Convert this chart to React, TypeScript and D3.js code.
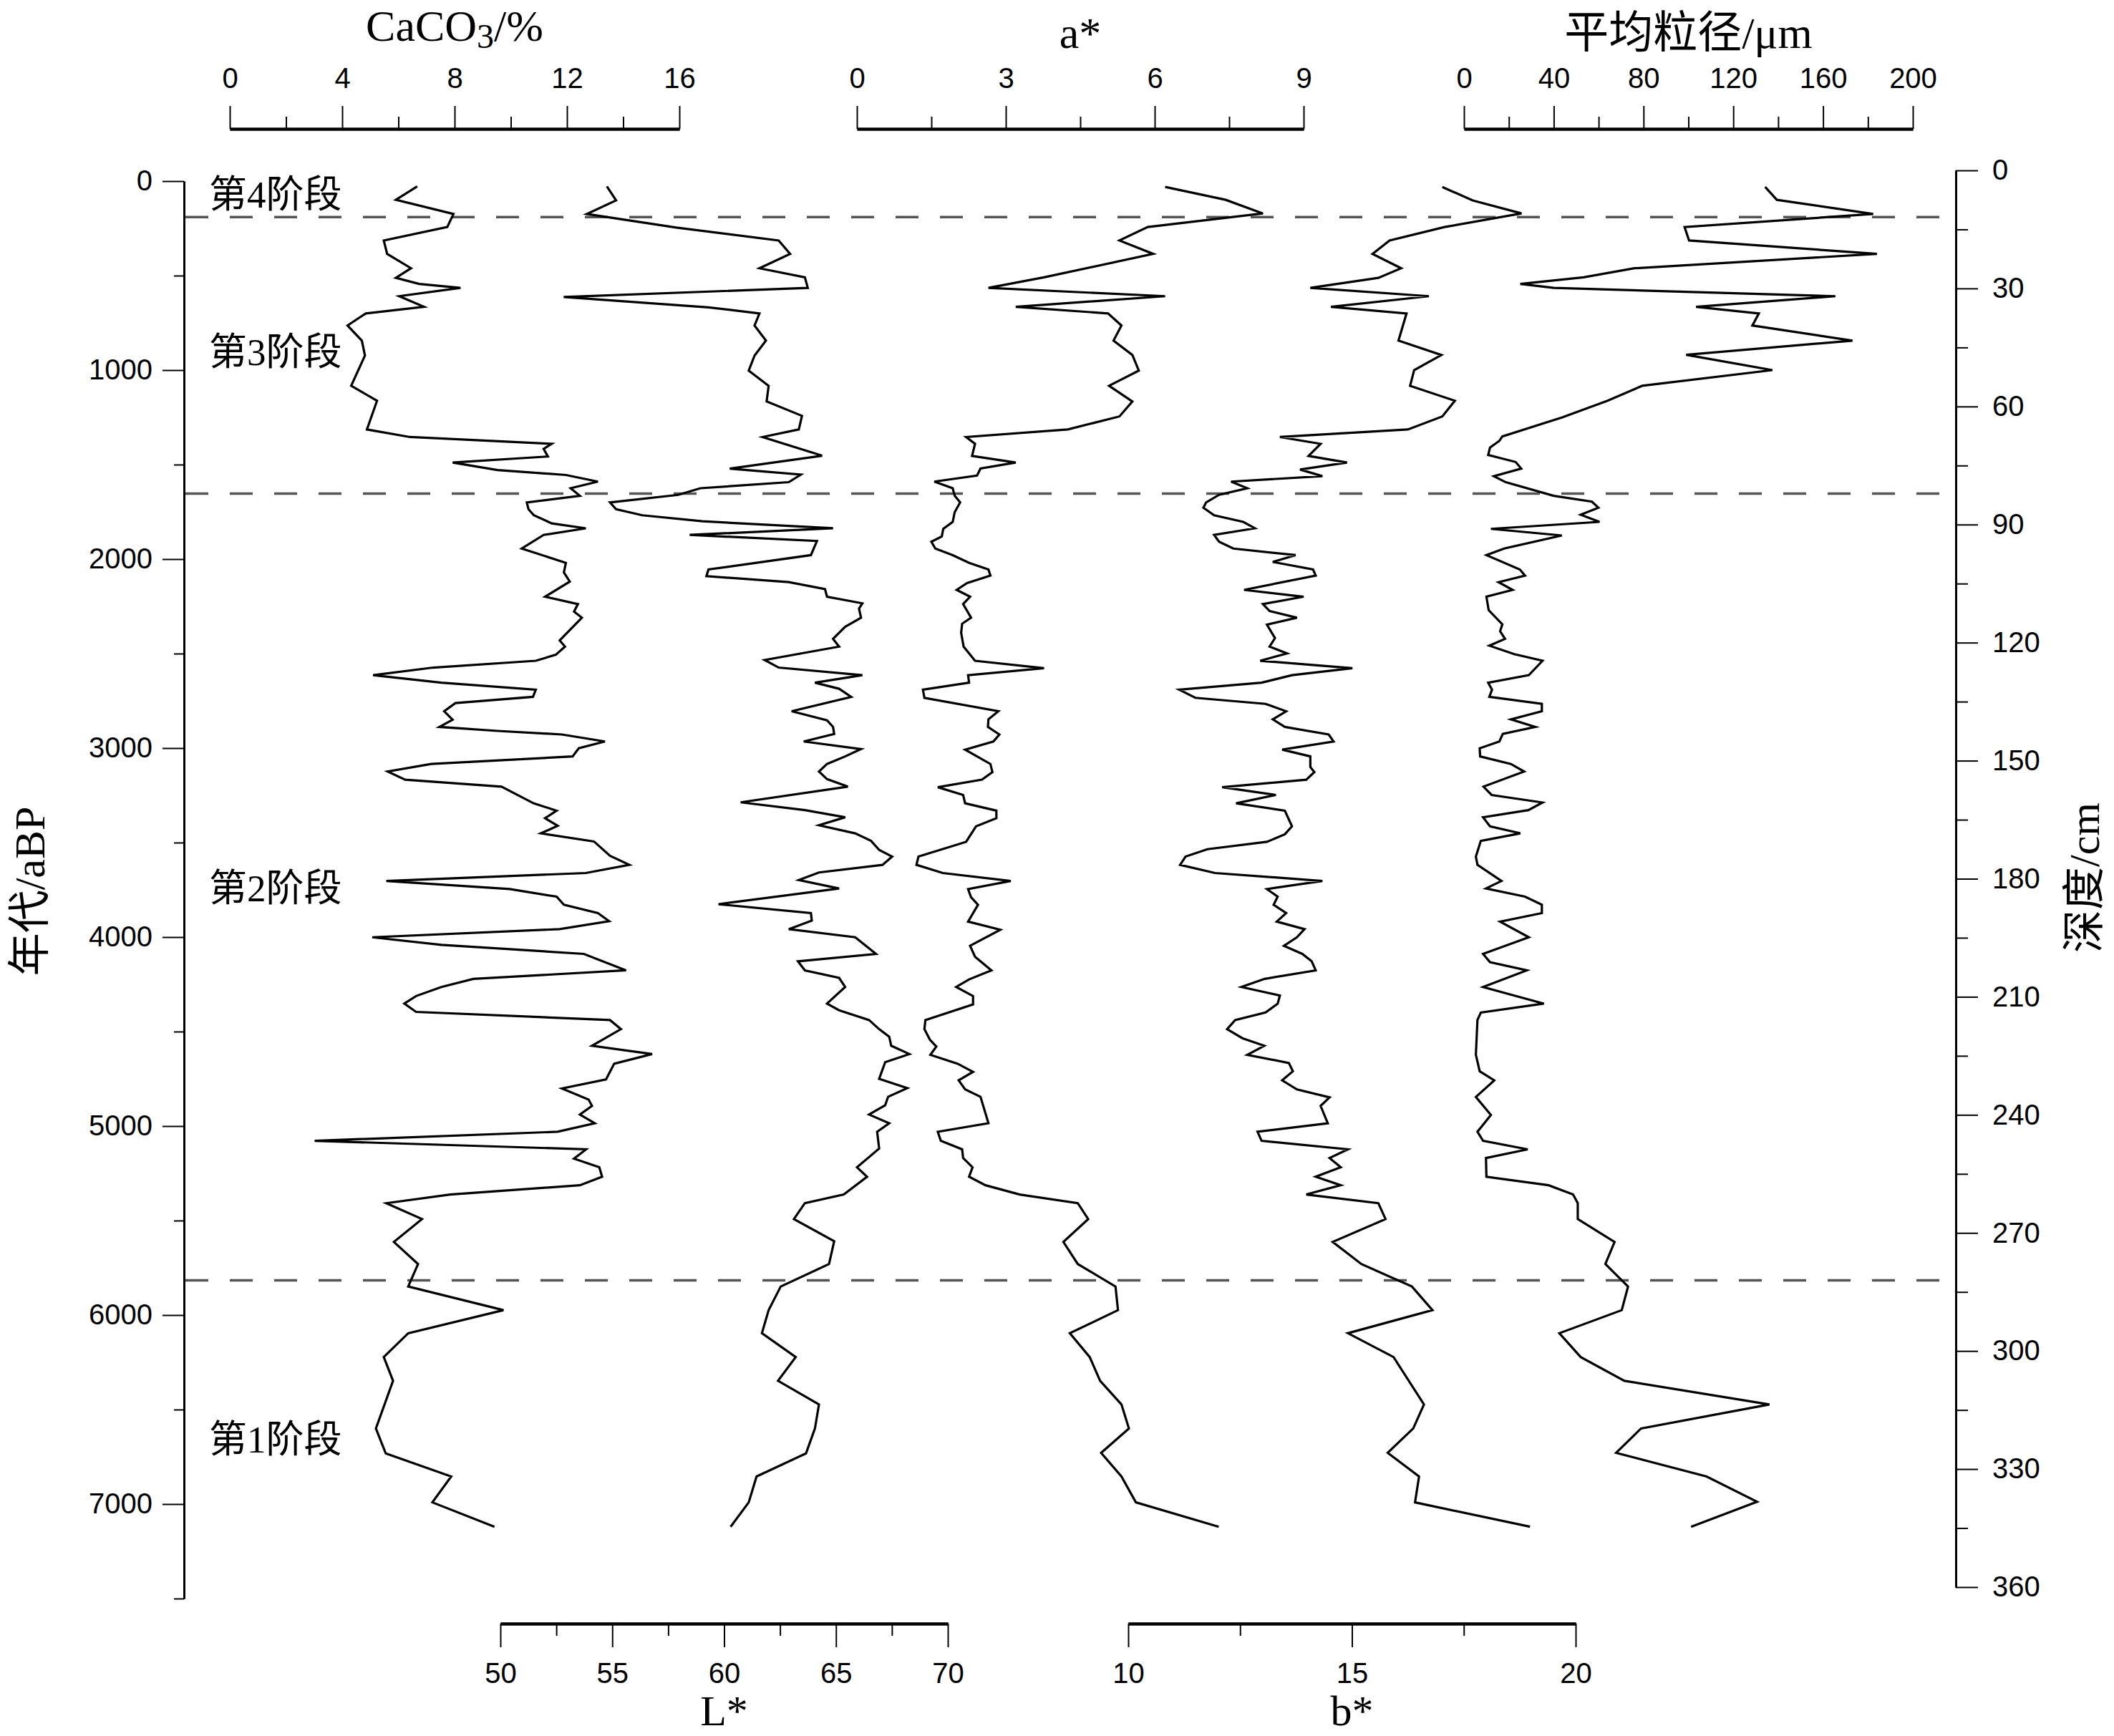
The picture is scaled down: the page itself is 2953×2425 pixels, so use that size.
import React, { useEffect, useRef } from 'react';
import * as d3 from 'd3';

// [age (aBP), value] pairs
const caco3: [number, number][] = [
  [28, 6.67], [99, 5.91], [174, 7.96], [243, 7.74], [314, 5.48], [385, 5.6], [461, 6.45], [512, 5.91],
  [544, 6.74], [565, 8.21], [609, 6.03], [665, 6.91], [700, 4.84], [764, 4.19], [844, 4.7], [923, 4.81],
  [1083, 4.32], [1162, 5.24], [1314, 4.88], [1354, 6.41], [1390, 11.46], [1417, 11.17], [1457, 11.32],
  [1489, 7.93], [1529, 9.53], [1555, 11.96], [1590, 13.1], [1625, 12.13], [1665, 12.46], [1700, 10.57],
  [1736, 10.63], [1768, 10.82], [1811, 11.46], [1837, 12.67], [1872, 11.17], [1944, 10.39], [2020, 11.96],
  [2071, 11.89], [2119, 12.1], [2199, 11.22], [2238, 12.39], [2278, 12.25], [2310, 12.53], [2430, 11.74],
  [2463, 11.93], [2506, 11.6], [2538, 10.89], [2574, 7.24], [2614, 5.1], [2654, 7.53], [2691, 10.89],
  [2729, 10.79], [2762, 8.03], [2805, 7.63], [2850, 7.93], [2888, 7.46], [2909, 9.53], [2928, 11.82],
  [2965, 13.35], [3001, 12.42], [3044, 12.2], [3084, 7.17], [3124, 5.62], [3167, 6.24], [3204, 9.67],
  [3292, 10.81], [3331, 11.63], [3371, 11.22], [3411, 11.67], [3451, 11.07], [3494, 12.96], [3570, 13.53],
  [3618, 14.22], [3661, 12.67], [3703, 5.57], [3746, 9.96], [3786, 11.63], [3829, 11.89], [3873, 13.1],
  [3916, 13.5], [3958, 11.74], [4001, 5.07], [4041, 7.53], [4089, 12.6], [4176, 14.1], [4221, 8.67],
  [4264, 7.53], [4312, 6.63], [4352, 6.21], [4396, 6.63], [4439, 13.53], [4487, 13.92], [4575, 12.89],
  [4619, 15.03], [4670, 13.68], [4753, 13.39], [4801, 11.82], [4860, 12.77], [4893, 12.89], [4939, 12.46],
  [4985, 12.99], [5030, 11.67], [5078, 3.02], [5123, 12.68], [5172, 12.25], [5218, 13.15], [5268, 13.25],
  [5313, 12.46], [5362, 7.84], [5408, 5.57], [5492, 6.84], [5613, 5.84], [5730, 6.7], [5849, 6.35],
  [5974, 9.74], [6096, 6.35], [6222, 5.48], [6348, 5.81], [6600, 5.2], [6732, 5.55], [6854, 7.88],
  [6991, 7.21], [7120, 9.42],
];

const lStar: [number, number][] = [
  [28, 54.76], [102, 55.17], [174, 53.86], [246, 57.86], [314, 62.44], [385, 62.95], [461, 61.58],
  [509, 63.61], [565, 63.74], [613, 52.83], [668, 59.3], [700, 61.58], [764, 61.36], [844, 61.87],
  [923, 61.36], [1003, 61.1], [1083, 61.99], [1166, 61.9], [1242, 63.48], [1314, 63.34], [1354, 61.72],
  [1453, 64.38], [1521, 60.25], [1553, 63.43], [1593, 62.89], [1625, 58.94], [1660, 57.95], [1700, 54.9],
  [1736, 55.17], [1768, 56.34], [1800, 59.03], [1837, 64.87], [1872, 58.46], [1904, 64.15], [1979, 63.88],
  [2055, 59.3], [2090, 59.21], [2122, 62.89], [2159, 64.51], [2199, 64.6], [2234, 66.18], [2262, 66.03],
  [2310, 66.12], [2358, 65.41], [2422, 64.87], [2463, 65.14], [2534, 61.81], [2574, 62.44], [2614, 66.18],
  [2654, 64.06], [2686, 65.14], [2729, 65.68], [2805, 63.02], [2853, 64.6], [2888, 64.87], [2925, 64.92],
  [2965, 63.56], [3005, 66.12], [3044, 65.41], [3084, 64.6], [3124, 64.24], [3164, 64.6], [3204, 65.53],
  [3287, 60.74], [3328, 63.61], [3366, 65.41], [3408, 64.24], [3451, 65.86], [3491, 66.57], [3539, 66.93],
  [3574, 67.51], [3618, 67.08], [3658, 64.24], [3698, 63.34], [3743, 65.14], [3826, 59.75], [3873, 63.88],
  [3913, 63.92], [3958, 62.89], [4001, 65.86], [4089, 66.79], [4128, 63.3], [4176, 63.61], [4216, 65.14],
  [4264, 65.41], [4352, 64.6], [4387, 65.14], [4439, 66.48], [4487, 66.93], [4527, 67.38], [4575, 67.47],
  [4619, 68.28], [4662, 67.2], [4750, 66.93], [4799, 68.19], [4845, 67.33], [4890, 67.2], [4939, 66.48],
  [4985, 67.38], [5030, 66.84], [5119, 66.93], [5218, 65.94], [5268, 66.39], [5362, 65.35], [5408, 63.61],
  [5492, 63.12], [5609, 64.92], [5730, 64.69], [5849, 62.53], [5974, 61.99], [6096, 61.69], [6222, 63.2],
  [6348, 62.41], [6473, 64.24], [6600, 64.06], [6732, 63.66], [6854, 61.45], [6991, 61.1], [7120, 60.29],
];

const aStar: [number, number][] = [
  [31, 6.21], [99, 7.43], [171, 8.18], [243, 5.86], [314, 5.29], [385, 5.97], [509, 3.77], [565, 2.65],
  [609, 6.21], [665, 3.2], [700, 5.06], [764, 5.33], [844, 5.17], [920, 5.55], [1003, 5.68], [1083, 5.08],
  [1166, 5.55], [1245, 5.29], [1314, 4.25], [1354, 2.2], [1390, 2.38], [1454, 2.32], [1489, 3.2],
  [1521, 2.49], [1558, 2.42], [1590, 1.56], [1625, 1.93], [1665, 1.97], [1700, 2.08], [1752, 1.97],
  [1803, 1.93], [1840, 1.74], [1880, 1.71], [1908, 1.5], [1944, 1.58], [1979, 1.93], [2020, 2.26],
  [2055, 2.65], [2087, 2.69], [2127, 2.22], [2163, 2.01], [2199, 2.28], [2238, 2.14], [2310, 2.3],
  [2342, 2.12], [2390, 2.1], [2463, 2.15], [2538, 2.38], [2577, 3.77], [2614, 2.24], [2654, 2.26],
  [2691, 1.33], [2734, 1.36], [2805, 2.85], [2848, 2.65], [2888, 2.64], [2928, 2.87], [2965, 2.75],
  [3008, 2.18], [3084, 2.69], [3127, 2.73], [3167, 2.52], [3207, 1.63], [3248, 2.14], [3292, 2.18],
  [3331, 2.81], [3371, 2.81], [3414, 2.4], [3496, 2.2], [3574, 1.24], [3618, 1.2], [3661, 1.73],
  [3703, 3.1], [3746, 2.24], [3789, 2.3], [3829, 2.44], [3918, 2.24], [3961, 2.89], [4046, 2.28],
  [4104, 2.38], [4176, 2.71], [4224, 2.26], [4264, 2.0], [4312, 2.34], [4356, 2.34], [4439, 1.38],
  [4487, 1.36], [4543, 1.47], [4579, 1.6], [4623, 1.48], [4670, 2.03], [4713, 2.34], [4758, 2.05],
  [4806, 2.18], [4845, 2.49], [4985, 2.65], [5030, 1.63], [5078, 1.69], [5123, 2.12], [5169, 2.14],
  [5218, 2.33], [5268, 2.26], [5313, 2.59], [5362, 3.28], [5408, 4.45], [5492, 4.66], [5613, 4.16],
  [5730, 4.45], [5849, 5.21], [5974, 5.26], [6096, 4.29], [6222, 4.69], [6348, 4.9], [6473, 5.33],
  [6600, 5.48], [6729, 4.92], [6854, 5.33], [6991, 5.62], [7120, 7.29],
];

const bStar: [number, number][] = [
  [31, 17.02], [102, 17.7], [171, 18.79], [243, 17.07], [314, 15.84], [385, 15.46], [461, 16.1],
  [512, 15.59], [565, 14.07], [609, 16.72], [665, 14.53], [700, 16.22], [844, 16.04], [920, 17.0],
  [1000, 16.39], [1083, 16.3], [1162, 17.3], [1245, 17.02], [1314, 16.25], [1354, 13.39], [1390, 14.3],
  [1454, 14.03], [1489, 14.89], [1526, 13.84], [1561, 14.34], [1590, 12.3], [1625, 12.66], [1660, 12.03],
  [1700, 11.74], [1728, 11.68], [1768, 11.92], [1803, 12.57], [1837, 12.83], [1872, 11.92], [1908, 12.03],
  [1944, 12.35], [1979, 13.74], [2015, 13.23], [2055, 14.13], [2087, 14.19], [2163, 12.59], [2199, 13.92],
  [2238, 13.01], [2275, 13.16], [2310, 13.77], [2347, 13.1], [2418, 13.28], [2463, 13.16], [2499, 13.55],
  [2538, 12.95], [2577, 15.01], [2614, 13.66], [2654, 12.98], [2691, 11.14], [2734, 11.5], [2766, 13.07],
  [2805, 13.53], [2848, 13.23], [2888, 13.5], [2928, 14.48], [2965, 14.59], [3008, 13.44], [3044, 14.07],
  [3100, 14.07], [3127, 14.16], [3167, 13.98], [3207, 12.1], [3248, 13.3], [3292, 12.41], [3331, 13.5],
  [3414, 13.66], [3456, 13.5], [3496, 13.1], [3535, 11.77], [3574, 11.28], [3618, 11.16], [3661, 11.94],
  [3703, 14.34], [3746, 13.1], [3786, 13.34], [3829, 13.25], [3873, 13.53], [3918, 13.32], [3958, 13.94],
  [4001, 13.77], [4046, 13.48], [4089, 13.89], [4128, 14.1], [4176, 14.19], [4221, 13.05], [4264, 12.53],
  [4309, 13.39], [4352, 13.34], [4399, 13.07], [4439, 12.39], [4487, 12.21], [4535, 12.55], [4575, 13.04],
  [4623, 12.66], [4666, 13.59], [4710, 13.68], [4758, 13.44], [4806, 13.77], [4848, 14.5], [4893, 14.3],
  [4985, 14.46], [5030, 12.89], [5078, 12.98], [5123, 14.91], [5169, 14.5], [5218, 14.75], [5268, 14.19],
  [5313, 14.75], [5362, 13.98], [5408, 15.59], [5492, 15.75], [5613, 14.57], [5730, 15.21], [5849, 16.34],
  [5974, 16.8], [6096, 14.91], [6222, 15.93], [6473, 16.61], [6600, 16.37], [6729, 15.8], [6854, 16.5],
  [6991, 16.41], [7120, 18.98],
];

const grainSize: [number, number][] = [
  [31, 134.2], [99, 139.4], [174, 182.3], [243, 98.3], [314, 100.3], [385, 184.0], [461, 76.0],
  [509, 53.3], [544, 25.1], [565, 40.0], [609, 165.5], [665, 103.4], [700, 131.4], [764, 128.5],
  [844, 173.1], [919, 99.0], [1000, 137.4], [1083, 79.4], [1162, 64.0], [1250, 43.8], [1351, 17.1],
  [1374, 15.8], [1410, 11.6], [1449, 10.8], [1486, 23.0], [1521, 25.5], [1561, 13.3], [1593, 18.6],
  [1665, 40.0], [1696, 57.0], [1728, 59.9], [1765, 52.0], [1803, 60.4], [1840, 12.0], [1875, 43.6],
  [1944, 17.9], [1979, 10.0], [2055, 24.9], [2087, 27.2], [2122, 15.4], [2163, 21.7], [2199, 10.0],
  [2270, 11.0], [2345, 17.1], [2382, 16.1], [2422, 18.3], [2458, 11.3], [2503, 22.4], [2538, 35.0],
  [2614, 28.9], [2654, 10.8], [2691, 12.5], [2729, 11.3], [2766, 34.7], [2805, 34.7], [2848, 20.9],
  [2888, 31.8], [2925, 17.3], [2965, 15.8], [3001, 7.0], [3044, 7.2], [3084, 20.9], [3124, 26.8],
  [3204, 8.7], [3248, 12.3], [3288, 35.0], [3328, 28.7], [3366, 8.5], [3414, 11.6], [3451, 25.1],
  [3491, 7.5], [3574, 5.3], [3618, 6.0], [3703, 16.7], [3743, 9.8], [3786, 27.2], [3829, 34.7],
  [3873, 34.7], [3918, 16.1], [4001, 28.9], [4089, 8.5], [4133, 11.6], [4176, 28.0], [4264, 8.5],
  [4352, 35.6], [4399, 7.5], [4439, 6.0], [4623, 5.3], [4710, 7.0], [4758, 13.5], [4846, 5.3],
  [4941, 12.0], [5030, 6.0], [5078, 8.5], [5123, 28.4], [5169, 9.8], [5268, 10.0], [5313, 37.7],
  [5362, 48.6], [5408, 50.7], [5492, 50.7], [5613, 67.1], [5730, 63.0], [5849, 73.1], [5974, 70.3],
  [6096, 42.5], [6222, 52.0], [6348, 71.5], [6473, 136.1], [6600, 78.9], [6729, 67.8], [6854, 108.1],
  [6988, 130.6], [7120, 101.2],
];

// stage boundaries (aBP) and stage labels
const boundaryAges = [190, 1653, 5816];
const stageNames = ['第4阶段', '第3阶段', '第2阶段', '第1阶段'];
const stageLabelAges = [140, 973, 3811, 6727];

const W = 2953;
const H = 2425;
const SERIF = "'Liberation Serif', 'Noto Sans CJK SC', serif";
const SANS = "'Liberation Sans', Arial, sans-serif";

const App: React.FC = () => {
  const svgRef = useRef<SVGSVGElement>(null);

  useEffect(() => {
    if (!svgRef.current) return;
    const svg = d3.select(svgRef.current);
    svg.selectAll('*').remove();

    // vertical scales
    const yAge = d3.scaleLinear().domain([0, 7500]).range([253, 2233]);
    const yDepth = d3.scaleLinear().domain([0, 360]).range([238, 2217]);

    // horizontal scales for each proxy
    const xCa = d3.scaleLinear().domain([0, 16]).range([321, 949]);
    const xA = d3.scaleLinear().domain([0, 9]).range([1197, 1821]);
    const xGrain = d3.scaleLinear().domain([0, 200]).range([2045, 2672]);
    const xL = d3.scaleLinear().domain([50, 70]).range([699, 1324]);
    const xB = d3.scaleLinear().domain([10, 20]).range([1576, 2201]);

    const styleAxis = (g: d3.Selection<SVGGElement, unknown, null, undefined>, lineW: number) => {
      g.attr('font-family', SANS).attr('font-size', 40);
      g.select('.domain').attr('stroke', '#000').attr('stroke-width', lineW);
      g.selectAll('.tick line').attr('stroke', '#000').attr('stroke-width', 2);
      g.selectAll('.tick text').attr('fill', '#000');
    };

    // horizontal axes (top: CaCO3, a*, grain; bottom: L*, b*)
    const hAxis = (scale: d3.ScaleLinear<number, number>, majors: number[], minors: number[], yPos: number, top: boolean) => {
      const make = top ? d3.axisTop : d3.axisBottom;
      const gMin = svg.append('g').attr('transform', `translate(0,${yPos})`);
      gMin.call(make(scale).tickValues(minors).tickSize(17).tickSizeOuter(0).tickFormat(() => ''));
      styleAxis(gMin, 4);
      const gMaj = svg.append('g').attr('transform', `translate(0,${yPos})`);
      gMaj.call(make(scale).tickValues(majors).tickSize(top ? 32 : 33).tickSizeOuter(0).tickPadding(top ? 25 : 22).tickFormat(d3.format('d')));
      styleAxis(gMaj, 4);
    };

    hAxis(xCa, [0, 4, 8, 12, 16], [2, 6, 10, 14], 180, true);
    hAxis(xA, [0, 3, 6, 9], [1.5, 4.5, 7.5], 180, true);
    hAxis(xGrain, d3.range(0, 201, 40), d3.range(20, 200, 40), 180, true);
    hAxis(xL, d3.range(50, 71, 5), d3.range(52.5, 70, 5), 2268, false);
    hAxis(xB, [10, 15, 20], [12.5, 17.5], 2268, false);

    // left age axis
    const gAgeMin = svg.append('g').attr('transform', 'translate(257,0)');
    gAgeMin.call(d3.axisLeft(yAge).tickValues(d3.range(500, 7501, 1000)).tickSize(14).tickSizeOuter(0).tickFormat(() => ''));
    styleAxis(gAgeMin, 3);
    const gAge = svg.append('g').attr('transform', 'translate(257,0)');
    gAge.call(d3.axisLeft(yAge).tickValues(d3.range(0, 7001, 1000)).tickSize(30).tickSizeOuter(0).tickPadding(14).tickFormat(d3.format('d')));
    styleAxis(gAge, 3);

    // right depth axis
    const gDepMin = svg.append('g').attr('transform', 'translate(2732,0)');
    gDepMin.call(d3.axisRight(yDepth).tickValues(d3.range(15, 360, 30)).tickSize(17).tickSizeOuter(0).tickFormat(() => ''));
    styleAxis(gDepMin, 3);
    const gDep = svg.append('g').attr('transform', 'translate(2732,0)');
    gDep.call(d3.axisRight(yDepth).tickValues(d3.range(0, 361, 30)).tickSize(31).tickSizeOuter(0).tickPadding(20).tickFormat(d3.format('d')));
    styleAxis(gDep, 3);

    // stage boundaries
    svg.append('g')
      .selectAll('line')
      .data(boundaryAges)
      .enter()
      .append('line')
      .attr('x1', 259)
      .attr('x2', 2731)
      .attr('y1', d => yAge(d))
      .attr('y2', d => yAge(d))
      .attr('stroke', '#555')
      .attr('stroke-width', 3.5)
      .attr('stroke-dasharray', '32,30');

    // proxy curves
    const series: { data: [number, number][]; x: d3.ScaleLinear<number, number> }[] = [
      { data: caco3, x: xCa },
      { data: lStar, x: xL },
      { data: aStar, x: xA },
      { data: bStar, x: xB },
      { data: grainSize, x: xGrain },
    ];
    series.forEach(s => {
      const line = d3.line<[number, number]>()
        .x(d => s.x(d[1]))
        .y(d => yAge(d[0]));
      svg.append('path')
        .datum(s.data)
        .attr('d', line)
        .attr('fill', 'none')
        .attr('stroke', '#000')
        .attr('stroke-width', 3.2);
    });

    // stage labels
    svg.append('g')
      .selectAll('text')
      .data(stageNames)
      .enter()
      .append('text')
      .attr('x', 292)
      .attr('y', (d, i) => yAge(stageLabelAges[i]))
      .attr('font-family', SERIF)
      .attr('font-size', 53)
      .attr('fill', '#000')
      .text(d => d);

    // axis titles
    const caTitle = svg.append('text')
      .attr('x', (xCa.range()[0] + xCa.range()[1]) / 2)
      .attr('y', 57)
      .attr('text-anchor', 'middle')
      .attr('font-family', SERIF)
      .attr('font-size', 62);
    caTitle.append('tspan').text('CaCO');
    caTitle.append('tspan').attr('font-size', 48).attr('dy', 10).text('3');
    caTitle.append('tspan').attr('dy', -10).text('/%');

    svg.append('text')
      .attr('x', (xA.range()[0] + xA.range()[1]) / 2)
      .attr('y', 67)
      .attr('text-anchor', 'middle')
      .attr('font-family', SERIF)
      .attr('font-size', 62)
      .text('a*');

    svg.append('text')
      .attr('x', (xGrain.range()[0] + xGrain.range()[1]) / 2)
      .attr('y', 67)
      .attr('text-anchor', 'middle')
      .attr('font-family', SERIF)
      .attr('font-size', 62)
      .text('平均粒径/μm');

    svg.append('text')
      .attr('x', (xL.range()[0] + xL.range()[1]) / 2)
      .attr('y', 2410)
      .attr('text-anchor', 'middle')
      .attr('font-family', SERIF)
      .attr('font-size', 60)
      .text('L*');

    svg.append('text')
      .attr('x', (xB.range()[0] + xB.range()[1]) / 2)
      .attr('y', 2410)
      .attr('text-anchor', 'middle')
      .attr('font-family', SERIF)
      .attr('font-size', 60)
      .text('b*');

    svg.append('text')
      .attr('transform', 'translate(62,1245) rotate(-90)')
      .attr('text-anchor', 'middle')
      .attr('font-family', SERIF)
      .attr('font-size', 60)
      .text('年代/aBP');

    svg.append('text')
      .attr('transform', 'translate(2932,1226) rotate(-90)')
      .attr('text-anchor', 'middle')
      .attr('font-family', SERIF)
      .attr('font-size', 60)
      .text('深度/cm');
  }, []);

  return (
    <svg
      ref={svgRef}
      width={W}
      height={H}
      style={{ position: 'absolute', left: 0, top: 0, background: '#fff' }}
    />
  );
};

export default App;
